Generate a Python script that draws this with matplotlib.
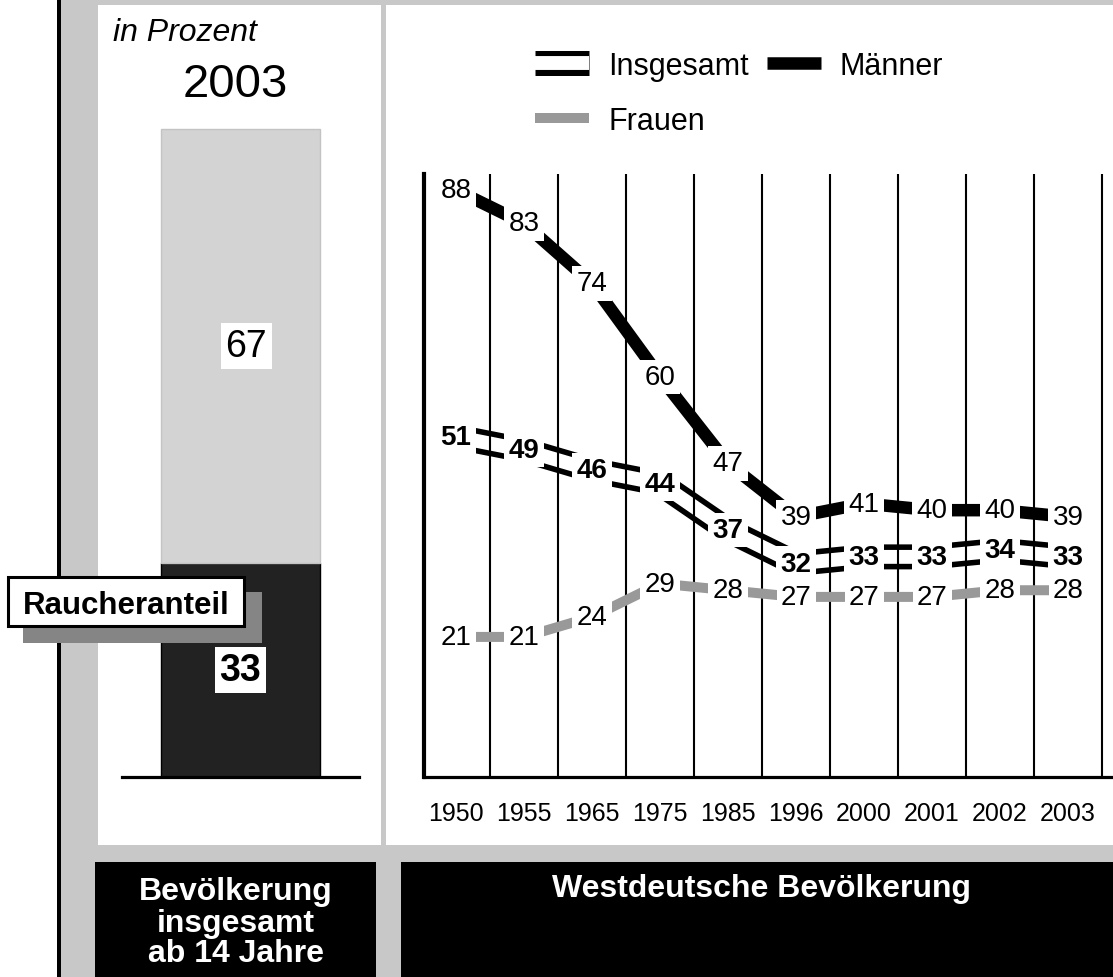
import matplotlib
matplotlib.use("Agg")
import matplotlib.pyplot as plt
import matplotlib.patheffects as pe
from matplotlib.patches import Rectangle
import numpy as np

plt.rcParams['font.family'] = ['Liberation Sans', 'DejaVu Sans']

# ---------------- data ----------------
years = ['1950', '1955', '1965', '1975', '1985', '1996', '2000', '2001', '2002', '2003']
insgesamt = [51, 49, 46, 44, 37, 32, 33, 33, 34, 33]
maenner = [88, 83, 74, 60, 47, 39, 41, 40, 40, 39]
frauen = [21, 21, 24, 29, 28, 27, 27, 27, 28, 28]

share_labels = ['Raucher', 'Nichtraucher']
share_values = [33, 67]
share_year = '2003'

legend_labels = ['Insgesamt', 'Frauen', 'Männer']

# ---------------- figure / layout ----------------
W, H = 1113, 978
fig = plt.figure(figsize=(W / 100, H / 100), dpi=100)
fig.patch.set_facecolor('white')


def fx(x):
    return x / W


def fy(y):
    return 1 - y / H


def rect(x0, y0, x1, y1, z=0, **kw):
    r = Rectangle((fx(x0), fy(y1)), (x1 - x0) / W, (y1 - y0) / H,
                  transform=fig.transFigure, zorder=z, **kw)
    fig.add_artist(r)
    return r


GRAY = '#c8c8c8'
rect(59, 0, W, H, z=-10, facecolor=GRAY, edgecolor='none')
rect(57, 0, 61, H, z=-9, facecolor='black', edgecolor='none')
rect(98, 6, 381, 846, z=-8, facecolor='white', edgecolor='none')
rect(386, 6, W, 846, z=-8, facecolor='white', edgecolor='none')
rect(95, 863, 376, H, z=-8, facecolor='black', edgecolor='none')
rect(401, 863, W, H, z=-8, facecolor='black', edgecolor='none')

# ---------------- left panel: 2003 share ----------------
axl = fig.add_axes([fx(122), fy(778), (359 - 122) / W, (778 - 130) / H])
axl.set_xlim(-0.5, 0.5)
axl.set_ylim(0, 100)
axl.patch.set_visible(False)
for s in ['top', 'right', 'left']:
    axl.spines[s].set_visible(False)
axl.spines['bottom'].set_linewidth(2.3)
axl.spines['bottom'].set_zorder(4)
axl.set_xticks([])
axl.set_yticks([])

bw = 0.671
b1 = axl.bar(0, share_values[0], width=bw, color='#222222', edgecolor='black',
             linewidth=1.0, zorder=2)
b2 = axl.bar(0, share_values[1], bottom=share_values[0], width=bw, color='#d3d3d3',
             edgecolor='#c3c3c3', linewidth=1.0, zorder=2)
for b in list(b1) + list(b2):
    b.set_clip_on(False)

axl.text(0, share_values[0] / 2, str(share_values[0]), ha='center', va='center',
         fontsize=27, fontweight='bold', zorder=5,
         bbox=dict(boxstyle='square,pad=0.13', fc='white', ec='none'))
axl.text(0.025, share_values[0] + share_values[1] / 2, str(share_values[1]), ha='center',
         va='center', fontsize=27, zorder=5,
         bbox=dict(boxstyle='square,pad=0.13', fc='white', ec='none'))

fig.text(fx(113), fy(41), 'in Prozent', fontsize=23, style='italic', ha='left',
         va='baseline')
fig.text(fx(235), fy(97), share_year, fontsize=34, ha='center', va='baseline')

# Raucheranteil tag with shadow
rect(23, 593, 262, 644, z=10, facecolor='#858585', edgecolor='none')
rect(8, 578, 244, 627, z=11, facecolor='white', edgecolor='black', linewidth=2.2)
fig.text(fx(126), fy(614), 'Raucheranteil', fontsize=22.5, fontweight='bold',
         ha='center', va='baseline', zorder=12)

# ---------------- right panel: time series ----------------
ax = fig.add_axes([fx(424), fy(778), (W - 424) / W, (778 - 175) / H])
ax.set_xlim(-0.47, 9.66)
ax.set_ylim(0, 90.4)
ax.patch.set_visible(False)
for s in ['top', 'right']:
    ax.spines[s].set_visible(False)
ax.spines['left'].set_linewidth(3.0)
ax.spines['bottom'].set_linewidth(2.3)
ax.set_yticks([])
xs = np.arange(len(years))
ax.set_xticks(xs)
ax.set_xticklabels(years, fontsize=18)
ax.tick_params(axis='x', length=0, pad=17)

# vertical separators between categories
ax.vlines(xs + 0.5, 0, 90.4, colors='black', linewidth=1.5, zorder=2)

l_ins, = ax.plot(xs, insgesamt, color='black', linewidth=18, solid_capstyle='butt',
                 zorder=1.5,
                 path_effects=[pe.Stroke(linewidth=18, foreground='black'),
                               pe.Stroke(linewidth=10, foreground='white')])
l_m, = ax.plot(xs, maenner, color='black', linewidth=9, solid_capstyle='butt',
               zorder=2.5)
l_f, = ax.plot(xs, frauen, color='#999999', linewidth=7.2, solid_capstyle='butt',
               zorder=2.5)

box = dict(boxstyle='square,pad=0.15', fc='white', ec='none')
for series, weight in [(maenner, 'normal'), (insgesamt, 'bold'), (frauen, 'normal')]:
    for i, v in enumerate(series):
        ax.text(xs[i], v, str(v), ha='center', va='center', fontsize=20,
                fontweight=weight, zorder=5, bbox=box)

leg = ax.legend([l_ins, l_f, l_m], legend_labels, ncol=2, loc='upper left',
                bbox_to_anchor=(fx(535), fy(52)), bbox_transform=fig.transFigure,
                frameon=False, borderpad=0, borderaxespad=0, handlelength=1.77,
                handletextpad=0.62, columnspacing=0.59, labelspacing=0.82,
                fontsize=22)

# ---------------- bottom captions ----------------
for txt, yb in [('Bevölkerung', 900), ('insgesamt', 932), ('ab 14 Jahre', 962)]:
    fig.text(fx(236), fy(yb), txt, color='white', fontsize=23, fontweight='bold',
             ha='center', va='baseline')
fig.text(fx(761), fy(897), 'Westdeutsche Bevölkerung', color='white', fontsize=23,
         fontweight='bold', ha='center', va='baseline')

fig.savefig('out.png', dpi=100)
